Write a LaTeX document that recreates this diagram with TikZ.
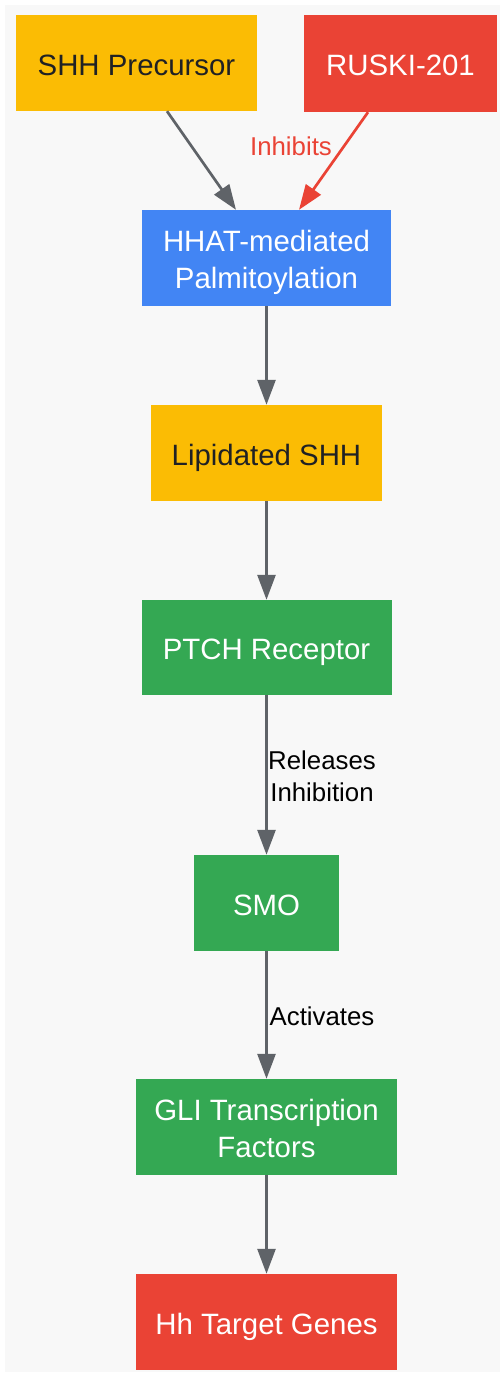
\documentclass[tikz,border=0pt]{standalone}
\usepackage{fontspec}
\setmainfont{Liberation Sans}
\usetikzlibrary{arrows.meta}
\definecolor{bggray}{HTML}{F8F8F8}
\definecolor{gyellow}{HTML}{FBBC04}
\definecolor{gred}{HTML}{EA4335}
\definecolor{gblue}{HTML}{4285F4}
\definecolor{ggreen}{HTML}{34A853}
\definecolor{edgegray}{HTML}{5F6368}
\definecolor{darktext}{HTML}{202124}
\tikzset{
  box/.style={rectangle, inner sep=0pt, align=center, text height=26pt, text depth=2pt, font=\fontsize{29.4}{36.7}\selectfont},
  twoline/.style={text height=62.7pt, text depth=2pt},
  yel/.style={box, fill=gyellow, text=darktext},
  redb/.style={box, fill=gred, text=white},
  blueb/.style={box, fill=gblue, text=white},
  greenb/.style={box, fill=ggreen, text=white},
  conn/.style={draw=edgegray, line width=2.7pt, -{Triangle[length=25pt,width=18pt]}},
  inhib/.style={draw=gred, line width=2.7pt, -{Triangle[length=25pt,width=18pt]}},
  elabel/.style={inner sep=0pt, align=center, font=\fontsize{25.8}{31.6}\selectfont}
}
\begin{document}
\begin{tikzpicture}[x=1pt,y=-1pt]
\useasboundingbox (0,0) rectangle (500,1374);
\fill[bggray] (5,5) rectangle (500,1372);
\node[yel, minimum width=241pt, minimum height=96pt] (shh) at (136.5,63) {SHH Precursor};
\node[redb, minimum width=193pt, minimum height=97pt] (ruski) at (400.5,63.5) {RUSKI-201};
\node[blueb, twoline, minimum width=249pt, minimum height=96pt] (hhat) at (266.5,258) {HHAT-mediated\\Palmitoylation};
\node[yel, minimum width=231pt, minimum height=96pt] (lip) at (266.5,453) {Lipidated SHH};
\node[greenb, minimum width=250pt, minimum height=95pt] (ptch) at (266.5,647.5) {PTCH Receptor};
\node[greenb, minimum width=145pt, minimum height=96pt] (smo) at (266.5,903) {SMO};
\node[greenb, twoline, minimum width=261pt, minimum height=96pt] (gli) at (266.5,1127) {GLI Transcription\\Factors};
\node[redb, minimum width=261pt, minimum height=96pt] (hh) at (266.5,1322) {Hh Target Genes};

\draw[conn] ([xshift=30.5pt]shh.south) -- ([xshift=-30.5pt]hhat.north);
\draw[inhib] ([xshift=-32.5pt]ruski.south) -- ([xshift=32.5pt]hhat.north);
\node[elabel, text=gred] (linh) at (291,146) {Inhibits};
\draw[conn] (hhat.south) -- (lip.north);
\draw[conn] (lip.south) -- (ptch.north);
\draw[conn] (ptch.south) -- (smo.north);
\node[elabel, text=black] (lrel) at (322,776) {Releases\\Inhibition};
\draw[conn] (smo.south) -- (gli.north);
\node[elabel, text=black] (lact) at (322,1016) {Activates};
\draw[conn] (gli.south) -- (hh.north);
\end{tikzpicture}
\end{document}
